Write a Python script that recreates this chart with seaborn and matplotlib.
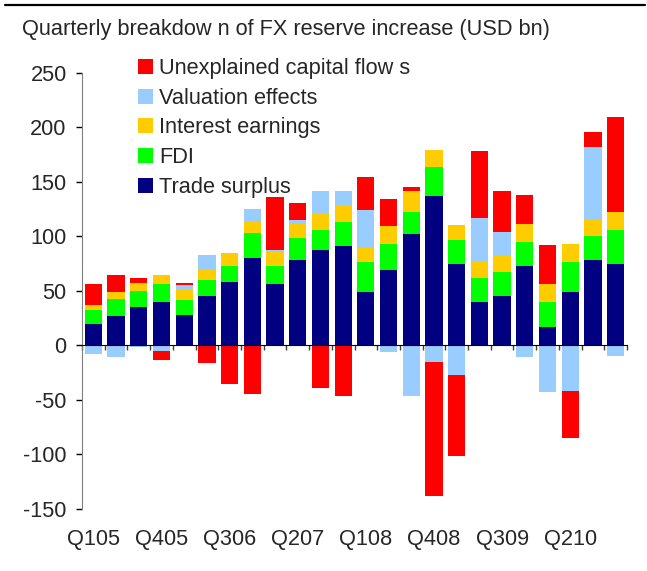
import numpy as np
import pandas as pd
import seaborn as sns
from matplotlib import pyplot as plt
from matplotlib.lines import Line2D

quarters = ["Q105", "Q205", "Q305", "Q405", "Q106", "Q206", "Q306", "Q406",
            "Q107", "Q207", "Q307", "Q407", "Q108", "Q208", "Q308", "Q408",
            "Q109", "Q209", "Q309", "Q409", "Q110", "Q210", "Q310", "Q410"]
trade = [20, 27.5, 35, 40.3, 28.4, 45.8, 58.6, 80.6, 56.8, 78.8, 87.9, 91.6,
         49.5, 69.6, 102.6, 137.4, 75.1, 40.3, 45.8, 73.3, 17.4, 49.5, 78.8, 75.1]
fdi = [13, 15.5, 14.7, 16.5, 13.7, 14.6, 14.7, 22.9, 16.5, 20.1, 18.3, 22,
       27.4, 23.8, 20.1, 26.5, 22, 22, 22, 21.9, 22.9, 27.4, 21.9, 31.1]
interest = [4.5, 6.5, 7.3, 8.2, 9.5, 9.5, 11.9, 10.1, 12.8, 12.8, 14.7, 14.9,
            12.8, 16.5, 19.2, 15.6, 13.7, 14.6, 14.6, 16.5, 16.5, 16.5, 14.7, 16.5]
valuation = [-8, -11, -1, -5.5, 3.7, 13.4, 0, 11.9, 1.8, 3.7, 21, 13.4,
             34.8, -6.4, -46.7, -14.7, -27.5, 40.3, 22, -11, -43, -42.1, 66.8, -9.2]
unexplained = [19, 15.5, 4.6, -8.2, 1.8, -15.6, -35.7, -44.9, 48.5, 15.6, -39.4, -46.7,
               30.3, 24.7, 3.7, -123.6, -74.1, 61.4, 37.5, 26.6, 35.7, -43.1, 13.8, 87]

series_names = ["Trade surplus", "FDI", "Interest earnings", "Valuation effects",
                "Unexplained capital flow s"]
series_colors = ["#000080", "#00FF00", "#FFCC00", "#99CCFF", "#FF0000"]
tick_labels = ["Q105", "Q405", "Q306", "Q207", "Q108", "Q408", "Q309", "Q210"]

df = pd.DataFrame({"quarter": quarters, "Trade surplus": trade, "FDI": fdi,
                   "Interest earnings": interest, "Valuation effects": valuation,
                   "Unexplained capital flow s": unexplained})

sns.set_style("white")
plt.rcParams["font.family"] = ["Liberation Sans", "DejaVu Sans"]
plt.rcParams["axes.unicode_minus"] = False
fs = 15.7

fig = plt.figure(figsize=(6.47, 5.71), dpi=100)
ax = fig.add_axes([82 / 647, 1 - 509 / 571, 545 / 647, 436 / 571])

pos_bottom = np.zeros(len(quarters))
neg_bottom = np.zeros(len(quarters))
for name, color in zip(series_names, series_colors):
    vals = df[name].to_numpy()
    bottom = np.where(vals >= 0, pos_bottom, neg_bottom)
    sns.barplot(x=df["quarter"], y=vals, order=quarters, color=color, saturation=1,
                width=0.76, errorbar=None, linewidth=0, bottom=bottom, label=name, ax=ax)
    pos_bottom = pos_bottom + np.where(vals >= 0, vals, 0)
    neg_bottom = neg_bottom + np.where(vals < 0, vals, 0)

ax.set_xlim(-0.5, len(quarters) - 0.5)
ax.set_ylim(-150, 250)
ax.set_yticks(range(-150, 251, 50))
ax.set_xlabel("")
ax.set_ylabel("")

# x axis sits at zero, labels pushed down to the bottom
ax.spines["bottom"].set_position(("data", 0))
ax.spines["bottom"].set_color("black")
ax.spines["bottom"].set_zorder(5)
ax.spines["left"].set_color("#808080")
ax.spines["top"].set_visible(False)
ax.spines["right"].set_visible(False)
ax.set_xticks([quarters.index(q) for q in tick_labels])
ax.set_xticklabels(tick_labels)
ax.set_xticks(np.arange(-0.5, len(quarters), 1), minor=True)
ax.tick_params(axis="x", which="major", bottom=True, length=0, pad=132, labelsize=fs)
ax.tick_params(axis="x", which="minor", bottom=True, length=3.5, width=1,
               direction="out", color="#404040")
ax.tick_params(axis="y", left=True, length=4, width=1, direction="out", pad=7,
               labelsize=fs, color="black")

fig.text(22 / 647, 1 - 30 / 571, "Quarterly breakdow n of FX reserve increase (USD bn)",
         fontsize=fs, va="center", ha="left")
fig.add_artist(Line2D([5 / 647, 645 / 647], [1 - 5 / 571, 1 - 5 / 571],
                      transform=fig.transFigure, color="black", linewidth=1.6))

handles, labels = ax.get_legend_handles_labels()
if ax.get_legend() is not None:
    ax.get_legend().remove()
fig.legend(handles[::-1], labels[::-1], loc="upper left",
           bbox_to_anchor=(138 / 647, 1 - 58 / 571), frameon=False, fontsize=fs,
           borderpad=0, borderaxespad=0, handlelength=0.68, handleheight=0.68,
           handletextpad=0.3, labelspacing=0.4)

plt.savefig("out.png", dpi=100)
plt.close()
